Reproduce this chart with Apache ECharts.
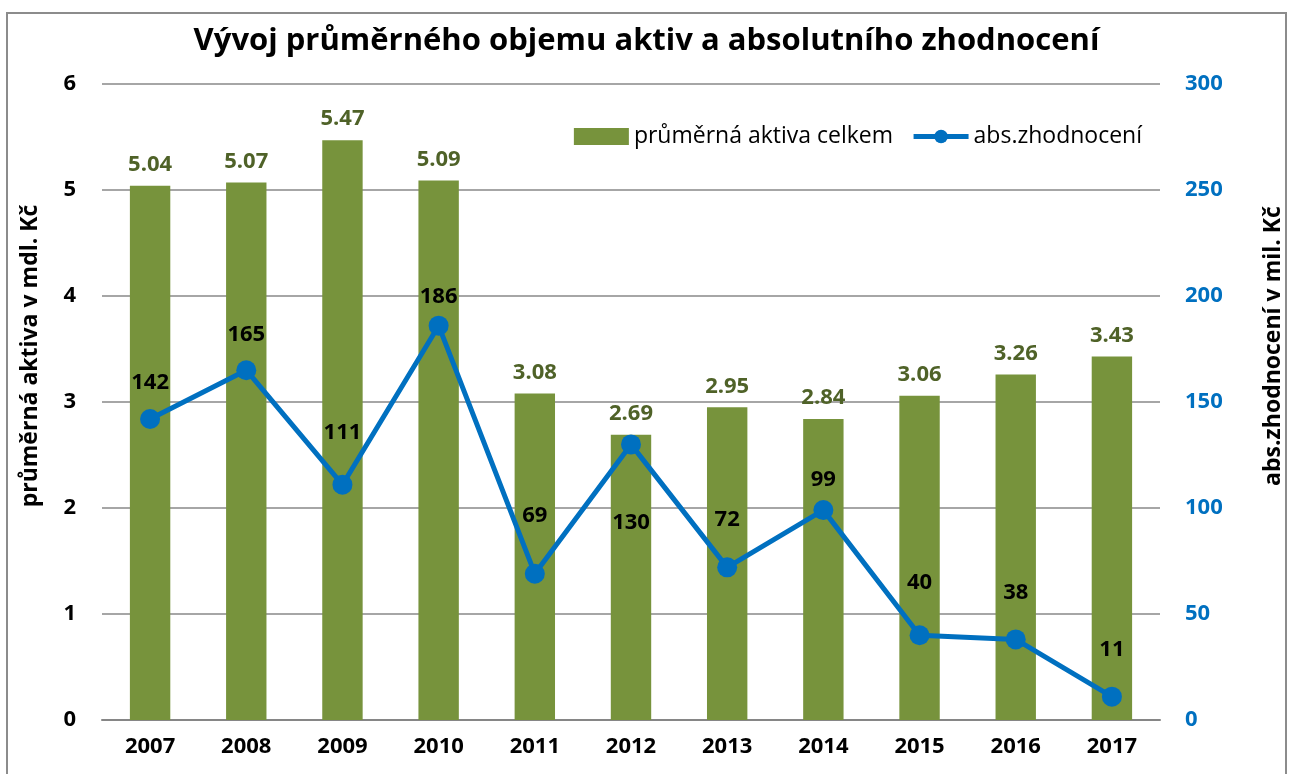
<!DOCTYPE html>
<html>
<head>
<meta charset="utf-8">
<script src="https://cdn.jsdelivr.net/npm/echarts@6/dist/echarts.min.js"></script>
<style>
  html, body { margin: 0; padding: 0; background: #fff; }
  #chart { width: 1293px; height: 774px; }
</style>
</head>
<body>
<div id="chart"></div>
<script>
// roky
var years = ['2007', '2008', '2009', '2010', '2011', '2012', '2013', '2014', '2015', '2016', '2017']
// průměrná aktiva v mld. Kč
var aktiva = [5.04, 5.07, 5.47, 5.09, 3.08, 2.69, 2.95, 2.84, 3.06, 3.26, 3.43]
// abs. zhodnocení v mil. Kč
var zhodnoceni = [142, 165, 111, 186, 69, 130, 72, 99, 40, 38, 11]

var font = 'Open Sans'

// posun popisků u čáry (v px, ručně umístěné jako v originále)
var labelShift = [-36, -35, -52, -29, -58, 78, -48, -30, -52, -47, -47]

var lineData = zhodnoceni.map(function (v, i) {
  return {
    value: v,
    label: { offset: [0, labelShift[i]] },
  }
})

var myChart = echarts.init(document.getElementById('chart'))

var option = {
  backgroundColor: '#fff',
  animation: false,
  textStyle: { fontFamily: font },
  title: {
    text: 'Vývoj průměrného objemu aktiv a absolutního zhodnocení',
    left: 'center',
    top: 21,
    textStyle: { fontSize: 31, fontWeight: 'bold', color: '#000', fontFamily: font },
  },
  graphic: [
    {
      type: 'rect',
      shape: { x: 7, y: 13, width: 1279, height: 800 },
      style: { fill: 'none', stroke: '#8c8c8c', lineWidth: 2 },
      silent: true,
    },
  ],
  legend: {
    right: 146,
    top: 120,
    itemGap: 18,
    itemWidth: 55,
    itemHeight: 17,
    textStyle: { fontSize: 23, color: '#000', fontFamily: font },
    data: [
      { name: 'průměrná aktiva celkem', icon: 'rect' },
      { name: 'abs.zhodnocení', lineStyle: { width: 5 } },
    ],
  },
  grid: {
    left: 102,
    right: 125,
    top: 84,
    bottom: 54,
    containLabel: false,
  },
  xAxis: {
    type: 'category',
    data: years,
    axisTick: { show: false },
    axisLine: { lineStyle: { color: '#868686', width: 2 } },
    axisLabel: {
      color: '#000',
      fontSize: 22,
      fontWeight: 'bold',
      margin: 16,
      fontFamily: font,
    },
  },
  yAxis: [
    {
      type: 'value',
      min: 0,
      max: 6,
      interval: 1,
      name: 'průměrná aktiva v mdl. Kč',
      nameLocation: 'middle',
      nameGap: 60,
      nameRotate: 90,
      nameTextStyle: {
        fontSize: 23,
        fontWeight: 'bold',
        color: '#000',
        fontFamily: font,
        padding: [0, 0, 0, 92],
      },
      axisLine: { show: false },
      axisTick: { show: false },
      axisLabel: { color: '#000', fontSize: 22, fontWeight: 'bold', margin: 26, fontFamily: font },
      splitLine: { lineStyle: { color: '#a6a6a6', width: 2 } },
    },
    {
      type: 'value',
      min: 0,
      max: 300,
      interval: 50,
      name: 'abs.zhodnocení v mil. Kč',
      nameLocation: 'middle',
      nameGap: 102,
      nameRotate: 90,
      nameTextStyle: {
        fontSize: 23,
        fontWeight: 'bold',
        color: '#000',
        fontFamily: font,
        padding: [0, 0, 0, 112],
      },
      axisLine: { show: false },
      axisTick: { show: false },
      axisLabel: { color: '#0070c0', fontSize: 22, fontWeight: 'bold', margin: 25, fontFamily: font },
      splitLine: { show: false },
    },
  ],
  series: [
    {
      name: 'průměrná aktiva celkem',
      type: 'bar',
      data: aktiva,
      yAxisIndex: 0,
      barWidth: '42%',
      itemStyle: { color: '#77933c' },
      label: {
        show: true,
        position: 'top',
        distance: 10,
        color: '#4f6228',
        fontSize: 22,
        fontWeight: 'bold',
        fontFamily: font,
        formatter: function (p) {
          return p.value.toFixed(2)
        },
      },
    },
    {
      name: 'abs.zhodnocení',
      type: 'line',
      data: lineData,
      yAxisIndex: 1,
      symbol: 'circle',
      symbolSize: 20,
      lineStyle: { color: '#0070c0', width: 5 },
      itemStyle: { color: '#0070c0' },
      label: {
        show: true,
        position: 'inside',
        color: '#000',
        fontSize: 22,
        fontWeight: 'bold',
        fontFamily: font,
      },
    },
  ],
}

myChart.setOption(option)
</script>
</body>
</html>
